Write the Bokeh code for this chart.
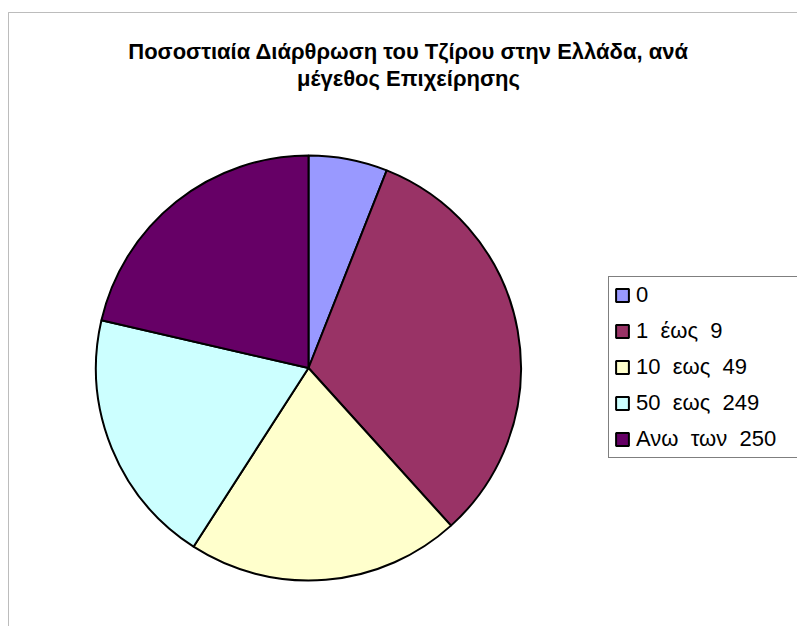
import math
from bokeh.plotting import figure
from bokeh.models import ColumnDataSource, Legend, LegendItem, Label, BoxAnnotation, Range1d
from bokeh.embed import file_html
from bokeh.resources import INLINE

# ---- data ----
title_lines = ["Ποσοστιαία Διάρθρωση του Τζίρου στην Ελλάδα, ανά", "μέγεθος Επιχείρησης"]
categories = ["0", "1  έως  9", "10  εως  49", "50  εως  249", "Ανω  των  250"]
shares = [6.0, 32.3, 20.8, 19.5, 21.4]
colors = ["#9999FF", "#993366", "#FFFFCC", "#CCFFFF", "#660066"]

# ---- layout (pixels; page coordinates, y down) ----
W, H = 797, 626

def py(y_page):
    return H - y_page

total = sum(shares)
starts, ends = [], []
acc = 0.0
for v in shares:
    starts.append(math.pi / 2 - 2 * math.pi * acc / total)
    acc += v
    ends.append(math.pi / 2 - 2 * math.pi * acc / total)

src = ColumnDataSource(dict(cat=categories, val=shares, color=colors,
                            start=starts, end=ends))

p = figure(width=W, height=H, output_backend="svg", toolbar_location=None,
           x_axis_type=None, y_axis_type=None,
           x_range=Range1d(0, W), y_range=Range1d(0, H),
           min_border=0, outline_line_color=None,
           background_fill_color="white", border_fill_color="white")
p.xgrid.visible = False
p.ygrid.visible = False

# chart border (only left & top visible in window)
p.add_layout(BoxAnnotation(left=8, right=5000, bottom=-5000, top=py(12),
                           fill_color=None, fill_alpha=0, line_color="#222222",
                           line_width=1, level="underlay"))

r = p.wedge(x=308, y=py(367.5), radius=212.5, radius_units="screen",
            start_angle="start", end_angle="end", direction="clock",
            fill_color="color", line_color="black", line_width=2, source=src)

# title
for txt, base in zip(title_lines, [51, 78]):
    p.add_layout(Label(x=408, y=py(base), text=txt,
                       text_align="center", text_baseline="alphabetic",
                       text_font="Liberation Sans", text_font_style="bold",
                       text_font_size="22px", text_color="black"))

items = [LegendItem(label=c, renderers=[r], index=i) for i, c in enumerate(categories)]
legend = Legend(items=items, location=(608, py(458)),
                glyph_width=16, glyph_height=16, label_height=24, spacing=10,
                padding=5, label_standoff=6, label_width=165, margin=0,
                border_line_color="black", border_line_width=1,
                background_fill_color="white", background_fill_alpha=1,
                label_text_font="Liberation Sans", label_text_font_size="22px",
                label_text_color="black")
p.add_layout(legend)

open("out.html", "w").write(file_html(p, INLINE))
